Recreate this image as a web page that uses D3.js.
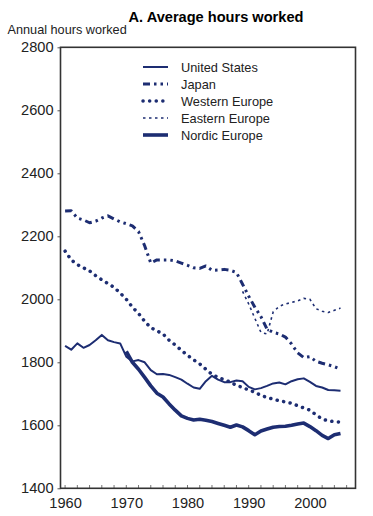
<!DOCTYPE html>
<html>
<head>
<meta charset="utf-8">
<script src="https://d3js.org/d3.v7.min.js"></script>
<style>
  body { margin: 0; background: #fff; }
  svg { font-family: "Liberation Sans", Arial, sans-serif; }
</style>
</head>
<body>
<svg width="373" height="516"></svg>
<script>
// years
var years = d3.range(1960, 2006);
var eastYears = d3.range(1989, 2006);
var nordicYears = d3.range(1970, 2006);

// annual hours worked
var usHours = [1852,1840,1860,1846,1855,1870,1887,1870,1864,1860,
  1818,1803,1807,1800,1775,1762,1763,1760,1753,1745,
  1732,1720,1716,1740,1757,1745,1737,1737,1742,1740,
  1722,1714,1718,1725,1733,1736,1730,1740,1746,1749,
  1738,1725,1720,1712,1711,1710];
var japanHours = [2280,2281,2258,2252,2243,2248,2258,2265,2255,2246,
  2240,2233,2215,2170,2115,2125,2125,2125,2122,2115,
  2108,2100,2098,2106,2092,2093,2095,2092,2085,2048,
  2010,1975,1945,1905,1895,1890,1880,1858,1830,1815,
  1818,1803,1797,1792,1786,1778];
var westHours = [2153,2125,2110,2100,2090,2075,2062,2050,2038,2020,
  2000,1975,1955,1930,1910,1900,1890,1870,1855,1838,
  1822,1808,1795,1778,1762,1752,1745,1737,1727,1720,
  1712,1705,1695,1688,1683,1678,1674,1670,1662,1655,
  1648,1633,1620,1614,1612,1610];
var eastHours = [2025,1985,1940,1895,1890,1960,1978,1985,1990,1995,
  2003,2000,1970,1962,1958,1965,1972];
var nordicHours = [1835,1800,1778,1752,1725,1702,1690,1668,1648,1630,
  1622,1617,1619,1616,1612,1606,1600,1594,1601,1595,
  1583,1570,1582,1588,1594,1596,1597,1600,1604,1607,
  1596,1583,1568,1558,1570,1574];

var seriesNames = ["United States", "Japan", "Western Europe", "Eastern Europe", "Nordic Europe"];
var yTicks = [1400, 1600, 1800, 2000, 2200, 2400, 2600, 2800];
var xTicks = [1960, 1970, 1980, 1990, 2000];

var navy = "#1d2d72";

var styles = {
  "United States":  { width: 2,   dash: null,               cap: "butt" },
  "Japan":          { width: 3,   dash: "7,4,2.5,4,2.5,4",  cap: "butt" },
  "Western Europe": { width: 3.5, dash: "0.1,6.5",          cap: "round" },
  "Eastern Europe": { width: 1.6, dash: "2.5,3.5",          cap: "butt" },
  "Nordic Europe":  { width: 3.6, dash: null,               cap: "butt" }
};

var series = [
  { name: "United States",  years: years,       values: usHours },
  { name: "Japan",          years: years,       values: japanHours },
  { name: "Western Europe", years: years,       values: westHours },
  { name: "Eastern Europe", years: eastYears,   values: eastHours },
  { name: "Nordic Europe",  years: nordicYears, values: nordicHours }
];

var svg = d3.select("svg");

var x = d3.scaleLinear().domain([1959.25, 2007.45]).range([60.5, 355.5]);
var y = d3.scaleLinear().domain([1400, 2800]).range([488.3, 47.3]);

// title + y label
svg.append("text")
  .attr("x", 216).attr("y", 21.5)
  .attr("text-anchor", "middle")
  .style("font-size", "14.6px").style("font-weight", "bold")
  .text("A. Average hours worked");

svg.append("text")
  .attr("x", 7.5).attr("y", 33.5)
  .style("font-size", "12.7px").attr("fill", "#222")
  .text("Annual hours worked");

// lines
var line = d3.line()
  .x(function(d) { return x(d[0]); })
  .y(function(d) { return y(d[1]); });

series.forEach(function(s) {
  var st = styles[s.name];
  var pts = s.years.map(function(yr, i) { return [yr, s.values[i]]; });
  svg.append("path")
    .datum(pts)
    .attr("d", line)
    .attr("fill", "none")
    .attr("stroke", navy)
    .attr("stroke-width", st.width)
    .attr("stroke-linecap", st.cap)
    .attr("stroke-linejoin", "round")
    .attr("stroke-dasharray", st.dash);
});

// axes
var yAxis = d3.axisLeft(y).tickValues(yTicks).tickFormat(d3.format("d")).tickSize(3).tickPadding(4);
var gy = svg.append("g").attr("transform", "translate(60.5,0)").call(yAxis);
gy.select(".domain").remove();
gy.selectAll("line").attr("stroke", "#555");
gy.selectAll("text").style("font-size", "14.6px").attr("fill", "#222")
  .style("font-family", "'Liberation Sans', Arial, sans-serif");

var xAxis = d3.axisBottom(x).tickValues(xTicks).tickFormat(d3.format("d")).tickSize(0).tickPadding(9);
var gx = svg.append("g").attr("transform", "translate(0,488.3)").call(xAxis);
gx.select(".domain").remove();
gx.selectAll("text").style("font-size", "14.6px").attr("fill", "#222")
  .style("font-family", "'Liberation Sans', Arial, sans-serif");

// minor ticks on bottom, pointing inward
svg.append("g").selectAll("line")
  .data(d3.range(1960, 2007, 2))
  .enter().append("line")
    .attr("x1", function(d) { return x(d); })
    .attr("x2", function(d) { return x(d); })
    .attr("y1", 488.3).attr("y2", 485)
    .attr("stroke", "#777").attr("stroke-width", 1);

// frame
svg.append("rect")
  .attr("x", 60.5).attr("y", 47.3)
  .attr("width", 295).attr("height", 441)
  .attr("fill", "none").attr("stroke", "#333").attr("stroke-width", 1.6);

// legend
var legend = svg.append("g").selectAll("g")
  .data(seriesNames)
  .enter().append("g")
    .attr("transform", function(d, i) { return "translate(143," + (67 + i * 17) + ")"; });

legend.append("line")
  .attr("x1", 0).attr("x2", 25)
  .attr("stroke", navy)
  .attr("stroke-width", function(d) { return styles[d].width; })
  .attr("stroke-linecap", function(d) { return styles[d].cap; })
  .attr("stroke-dasharray", function(d) { return styles[d].dash; });

legend.append("text")
  .attr("x", 38).attr("y", 4.5)
  .style("font-size", "12.8px").attr("fill", "#222")
  .text(function(d) { return d; });
</script>
</body>
</html>
